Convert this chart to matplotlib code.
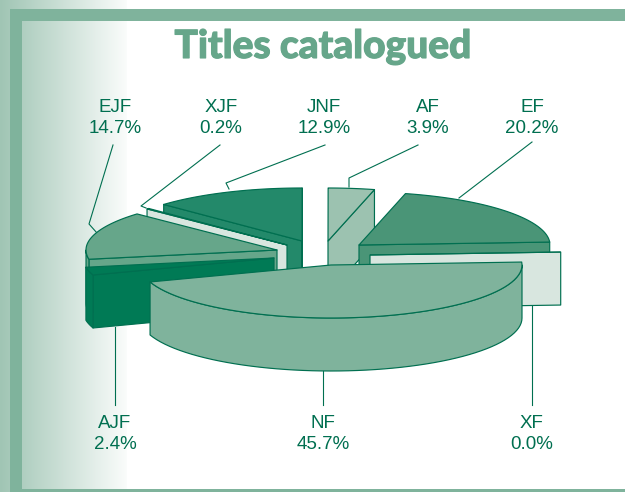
import numpy as np
import matplotlib
matplotlib.use("Agg")
import matplotlib.pyplot as plt
import matplotlib.patheffects as pe
from matplotlib.colors import LinearSegmentedColormap

# slices clockwise, starting from NF
labels = ["NF", "AJF", "EJF", "XJF", "JNF", "AF", "EF", "XF"]
values = [45.7, 2.4, 14.7, 0.2, 12.9, 3.9, 20.2, 0.0]

colors = ["#7fb39c", "#007a55", "#66a68a", "#d8e6df", "#23896a", "#9cc2b0", "#4a9577", "#d8e6df"]
edge = "#006f50"

# how far each slice is pulled out of the pie, in pixels from the centre
offset_x = [6, -51, -48, -38, -23, 3, 34, 45]
offset_y = [15, 8, 0, -5, -9, -9, -5, 5]

# back to front
draw_order = [5, 4, 3, 6, 7, 2, 1, 0]

# label text position and leader line
label_x = [323, 115, 115, 221, 324, 428, 532, 532]
label_y = [434, 434, 118, 118, 118, 118, 118, 434]
leader_x = [[323, 323], [115, 115], [113, 89, 97], [220, 141, 146], [325, 226, 229],
            [418, 349, 349], [532, 459], [532, 532]]
leader_y = [[370, 405], [327, 405], [145, 224, 233], [145, 206, 208], [145, 183, 189],
            [145, 178, 187], [142, 198], [306, 405]]

cx, cy = 325, 250
rx, ry = 191, 53
depth = 53
start_angle = 3.2

fig = plt.figure(figsize=(6.25, 4.92), dpi=100)
ax = fig.add_axes([0, 0, 1, 1])
ax.set_xlim(0, 625)
ax.set_ylim(492, 0)
ax.axis("off")

# left gradient and frame
cmap = LinearSegmentedColormap.from_list("bg", ["#a0c5b4", "#fafcfb"])
ax.imshow(np.linspace(0, 1, 127).reshape(1, -1), extent=[0, 127, 492, 0], cmap=cmap, aspect="auto", zorder=0)
ax.set_xlim(0, 625)
ax.set_ylim(492, 0)
ax.fill_between([10, 625], 9, 21, color="#7fb39c", lw=0, zorder=1)
ax.fill_between([10, 22], 9, 492, color="#7fb39c", lw=0, zorder=1)
ax.fill_between([10, 625], 489, 492, color="#7fb39c", lw=0, zorder=1)

ax.text(323, 58, "Titles catalogued", ha="center", va="baseline", fontsize=28, family="Lato",
        fontweight="black", color="#66a68a", zorder=5,
        path_effects=[pe.withStroke(linewidth=0.8, foreground="#66a68a")])

# slice angles
frac = np.array(values) / sum(values)
starts = start_angle - np.concatenate([[0], np.cumsum(frac)[:-1]]) * 360
ends = starts - frac * 360


def arc(x0, y0, a, b):
    t = np.radians(np.linspace(a, b, 60))
    return x0 + rx * np.cos(t), y0 - ry * np.sin(t)


def face(xs, ys, c, z):
    ax.fill(xs, ys, facecolor=c, edgecolor=edge, lw=0.85, joinstyle="round", zorder=z)


z = 2
for i in range(len(draw_order)):
    k = draw_order[i]
    x0 = cx + offset_x[k]
    y0 = cy + offset_y[k]
    s, e = starts[k], ends[k]
    c = colors[k]

    # cut faces looking at the viewer
    for ang, show in [(s, np.cos(np.radians(s)) < 0), (e, np.cos(np.radians(e)) > 0)]:
        if show:
            px = x0 + rx * np.cos(np.radians(ang))
            py = y0 - ry * np.sin(np.radians(ang))
            face([x0, px, px, x0], [y0, py, py + depth, y0 + depth], c, z)
            z += 0.01

    # rim, only the front half shows
    a, b = min(s, 0), max(e, -180)
    if a > b:
        ox, oy = arc(x0, y0, a, b)
        face(np.r_[ox, ox[::-1]], np.r_[oy, oy[::-1] + depth], c, z)
        z += 0.01

    # top
    tx, ty = arc(x0, y0, s, e)
    face(np.r_[x0, tx], np.r_[y0, ty], c, z)
    z += 0.01

for i in range(len(labels)):
    ax.plot(leader_x[i], leader_y[i], color=edge, lw=0.8, zorder=1.5)
    ax.text(label_x[i], label_y[i], labels[i] + "\n" + "%.1f%%" % values[i], ha="center", va="center",
            fontsize=13.5, family="Liberation Sans", color=edge, linespacing=1.25, zorder=5)

fig.savefig("out.png", dpi=100)
